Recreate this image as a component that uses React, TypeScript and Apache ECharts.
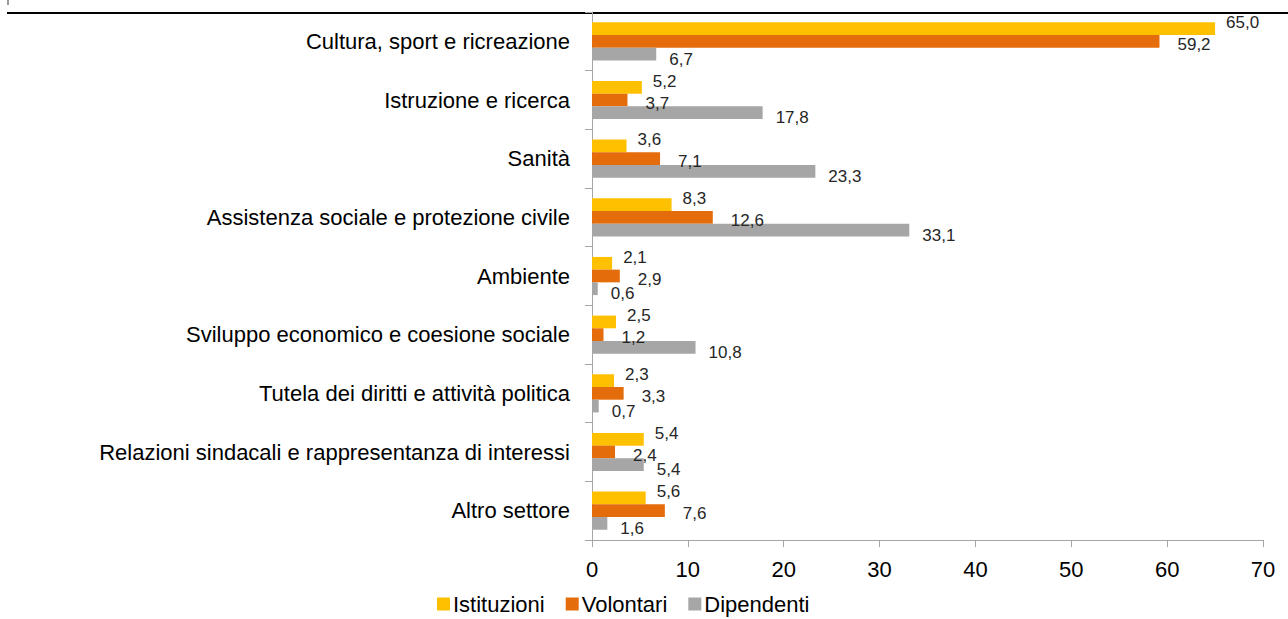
import React, { useEffect, useRef } from "react";
import * as echarts from "echarts";

const categories = [
  "Cultura, sport e ricreazione",
  "Istruzione e ricerca",
  "Sanità",
  "Assistenza sociale e protezione civile",
  "Ambiente",
  "Sviluppo economico e coesione sociale",
  "Tutela dei diritti e attività politica",
  "Relazioni sindacali e rappresentanza di interessi",
  "Altro settore",
];
const istituzioni = [65.0, 5.2, 3.6, 8.3, 2.1, 2.5, 2.3, 5.4, 5.6];
const volontari = [59.2, 3.7, 7.1, 12.6, 2.9, 1.2, 3.3, 2.4, 7.6];
const dipendenti = [6.7, 17.8, 23.3, 33.1, 0.6, 10.8, 0.7, 5.4, 1.6];
const xTicks = { min: 0, max: 70, interval: 10 };

const FONT = "'Liberation Sans', Arial, sans-serif";
const fmt = (v: number) => v.toFixed(1).replace(".", ",");

export default function App() {
  const ref = useRef<HTMLDivElement>(null);
  useEffect(() => {
    if (!ref.current) return;
    const chart = echarts.init(ref.current, undefined, { renderer: "svg" });
    const mkSeries = (name: string, data: number[], color: string, distance: number, dy: number) => ({
      name,
      type: "bar",
      data,
      barGap: "0%",
      barCategoryGap: "35%",
      itemStyle: { color },
      label: {
        show: true,
        position: "right",
        distance,
        offset: [0, dy],
        formatter: (p: any) => fmt(p.value),
        color: "#262626",
        fontFamily: FONT,
        fontSize: 17,
      },
    });
    chart.setOption({
      animation: false,
      textStyle: { fontFamily: FONT },
      grid: { left: 592, right: 25, top: 12, bottom: 79, containLabel: false },
      legend: {
        left: 432,
        top: 588,
        itemWidth: 13,
        itemHeight: 13,
        itemGap: 21,
        icon: "rect",
        textStyle: { fontFamily: FONT, fontSize: 22, color: "#000", padding: [0, 0, 0, -2] },
        data: ["Istituzioni", "Volontari", "Dipendenti"],
      },
      xAxis: {
        type: "value",
        min: xTicks.min,
        max: xTicks.max,
        interval: xTicks.interval,
        axisLine: { show: true, lineStyle: { color: "#a6a6a6", width: 1 } },
        axisTick: { show: true, length: 7, lineStyle: { color: "#a6a6a6" } },
        splitLine: { show: false },
        axisLabel: { color: "#000", fontFamily: FONT, fontSize: 22, margin: 18 },
      },
      yAxis: {
        type: "category",
        data: categories,
        inverse: true,
        axisLine: { show: true, lineStyle: { color: "#a6a6a6", width: 1 } },
        axisTick: { show: true, length: 7, lineStyle: { color: "#a6a6a6" } },
        axisLabel: { color: "#000", fontFamily: FONT, fontSize: 22, margin: 22 },
      },
      graphic: [
        { type: "line", shape: { x1: 7, y1: 13, x2: 1288, y2: 13 }, style: { stroke: "#000", lineWidth: 2 } },
        { type: "line", shape: { x1: 8, y1: 0, x2: 8, y2: 5 }, style: { stroke: "#999", lineWidth: 2 } },
      ],
      series: [
        mkSeries("Istituzioni", istituzioni, "#ffc000", 11, -6),
        mkSeries("Volontari", volontari, "#e46c0a", 18, 3),
        mkSeries("Dipendenti", dipendenti, "#a6a6a6", 13, 5),
      ],
    });
    return () => chart.dispose();
  }, []);
  return <div ref={ref} style={{ width: 1288, height: 619, position: "absolute", left: 0, top: 0 }} />;
}
